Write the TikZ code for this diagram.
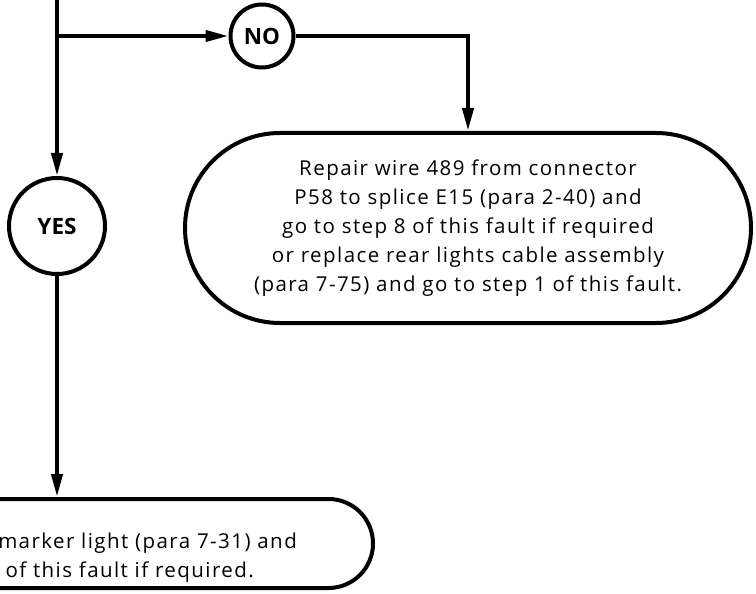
\documentclass[tikz,border=0pt]{standalone}
\usepackage{fontspec}
\setmainfont{Open Sans}[LetterSpace=7]
\newfontfamily\lblfont{Open Sans}
\usetikzlibrary{arrows.meta}
\begin{document}
\begin{tikzpicture}[x=1bp,y=-1bp,
  line/.style={line width=4bp, draw=black},
  arr/.style={line, -{Triangle[length=23bp,width=11bp]}},
  decision/.style={circle, draw, line width=4bp, inner sep=0pt,
    font=\lblfont\bfseries\fontsize{22.5bp}{25bp}\selectfont},
  action/.style={draw, line width=4bp, rectangle, align=center, inner sep=0pt,
    font=\fontsize{20.5bp}{29bp}\selectfont},
  txt/.style={inner sep=0pt, font=\fontsize{20.5bp}{29bp}\selectfont}]
\useasboundingbox (0,0) rectangle (756,594);
\clip (0,0) rectangle (756,594);
\coordinate (top) at (57,-5);
\coordinate (split) at (57,36);
\node[decision, minimum size=63bp] (no) at (262,36) {NO};
\node[decision, minimum size=96bp] (yes) at (57,226) {YES};
\node[action, rounded corners=95bp, minimum width=566bp, minimum height=190bp] (repair) at (468,228)
  {Repair wire 489 from connector\\P58 to splice E15 (para 2-40) and\\go to step 8 of this fault if required\\or replace rear lights cable assembly\\(para 7-75) and go to step 1 of this fault.};
\node[action, rounded corners=44.5bp, minimum width=632bp, minimum height=89bp] (fix) at (57,543.5) {};
\node[txt, anchor=base east] (fixa) at (297,548) {marker light (para 7-31) and};
\node[txt, anchor=base east] (fixb) at (254,577) {of this fault if required.};
\draw[arr] (top) -- (yes);
\draw[arr] (split) -- (no);
\draw[arr] (no) -| (repair);
\draw[arr] (yes) -- (fix);
\end{tikzpicture}
\end{document}
